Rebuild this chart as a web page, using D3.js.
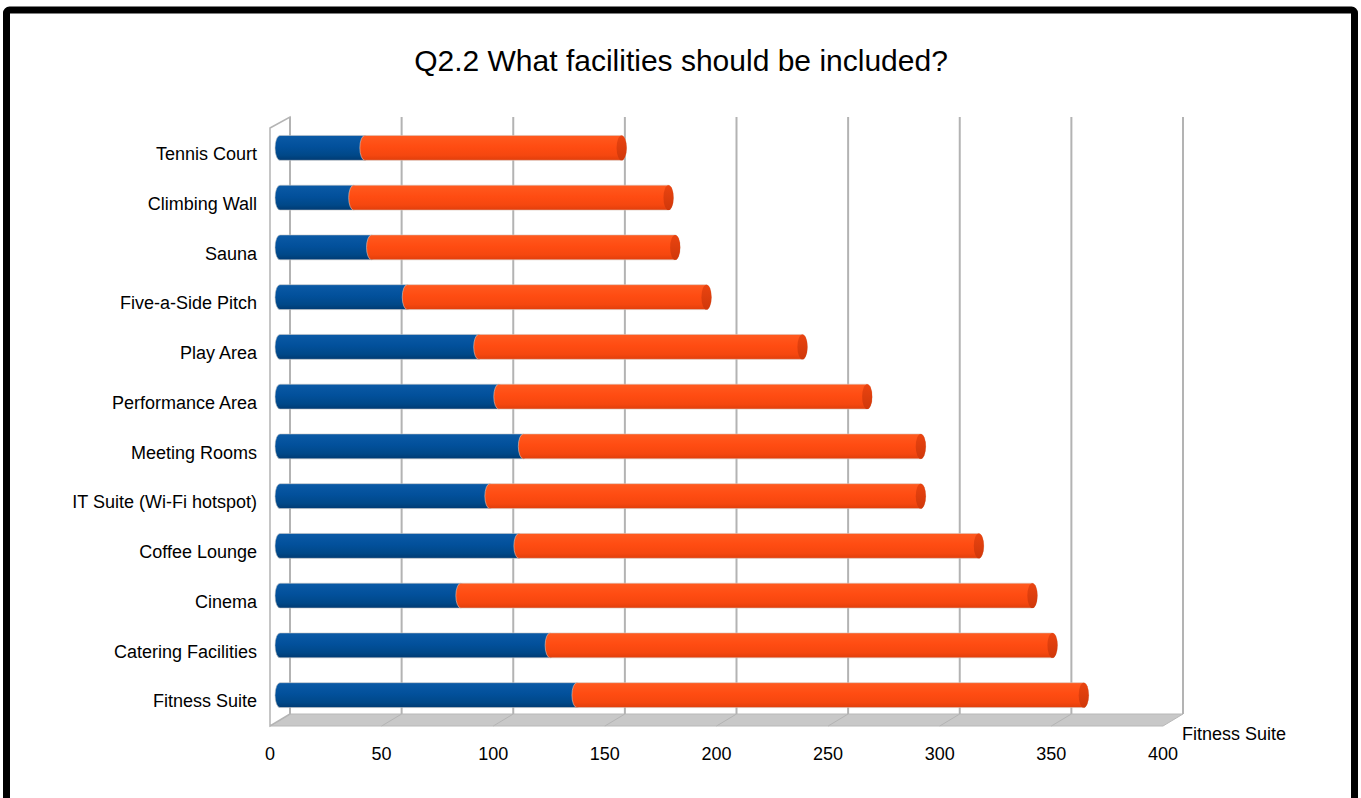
<!DOCTYPE html>
<html>
<head>
<meta charset="utf-8">
<script src="https://cdn.jsdelivr.net/npm/d3@7"></script>
<style>
  body { margin: 0; background: #fff; }
  svg { display: block; font-family: "Liberation Sans", Arial, sans-serif; }
</style>
</head>
<body>
<svg id="chart" width="1361" height="798"></svg>
<script>
// categories, top to bottom
const categories = [
  "Tennis Court", "Climbing Wall", "Sauna", "Five-a-Side Pitch", "Play Area",
  "Performance Area", "Meeting Rooms", "IT Suite (Wi-Fi hotspot)", "Coffee Lounge",
  "Cinema", "Catering Facilities", "Fitness Suite"
];
// first (blue) series
const blueValues = [38, 33, 41, 57, 89, 98, 109, 94, 107, 81, 121, 133];
// second (orange) series
const orangeValues = [115, 141, 136, 134, 145, 165, 178, 193, 206, 256, 225, 227];
const tickValues = [0, 50, 100, 150, 200, 250, 300, 350, 400];

const svg = d3.select("#chart");

// 3D depth offset (back wall -> front edge)
const dx = -20, dy = 12;

// scales on the back wall
const x = d3.scaleLinear().domain([0, 400]).range([290, 1183]);
const y = d3.scaleBand().domain(categories).range([117, 714]).paddingInner(0.5).paddingOuter(0.25);
const yTop = 117, yBottom = 714;

// gradients for the cylinders
const defs = svg.append("defs");
function grad(id, stops) {
  const g = defs.append("linearGradient").attr("id", id)
    .attr("x1", 0).attr("y1", 0).attr("x2", 0).attr("y2", 1);
  stops.forEach(([o, c]) => g.append("stop").attr("offset", o).attr("stop-color", c));
}
grad("blueGrad", [[0, "#0b5aa6"], [0.45, "#02509b"], [0.8, "#004888"], [1, "#003a72"]]);
grad("orangeGrad", [[0, "#ff5a1f"], [0.45, "#ff4c12"], [0.8, "#f5470f"], [1, "#e03e0b"]]);
grad("capGrad", [[0, "#ea4410"], [1, "#d0380a"]]);

// outer frame
svg.append("rect")
  .attr("x", 6.5).attr("y", 10).attr("width", 1348).attr("height", 900)
  .attr("rx", 3)
  .attr("fill", "#fff").attr("stroke", "#000").attr("stroke-width", 7);

// title
svg.append("text")
  .attr("x", 681).attr("y", 71)
  .attr("text-anchor", "middle")
  .attr("font-size", 30)
  .attr("fill", "#000")
  .text("Q2.2 What facilities should be included?");

// floor
const x0 = x(0), x4 = x(400);
svg.append("polygon")
  .attr("points", [[x0, yBottom], [x4, yBottom], [x4 + dx, yBottom + dy], [x0 + dx, yBottom + dy]].join(" "))
  .attr("fill", "#c8c8c8").attr("stroke", "#b8b8b8").attr("stroke-width", 1);

// floor depth lines
svg.selectAll(".floorline")
  .data(tickValues.slice(1, -1))
  .join("line")
  .attr("x1", d => x(d)).attr("y1", yBottom)
  .attr("x2", d => x(d) + dx).attr("y2", yBottom + dy)
  .attr("stroke", "#b4b4b4").attr("stroke-width", 1);

// left wall
svg.append("polygon")
  .attr("points", [[x0 + dx, yTop + dy - 1], [x0, yTop], [x0, yBottom], [x0 + dx, yBottom + dy]].join(" "))
  .attr("fill", "#fff").attr("stroke", "#b4b4b4").attr("stroke-width", 1.5);

// vertical gridlines on back wall
svg.selectAll(".grid")
  .data(tickValues)
  .join("line")
  .attr("x1", d => x(d)).attr("x2", d => x(d))
  .attr("y1", yTop).attr("y2", yBottom)
  .attr("stroke", "#b3b3b3").attr("stroke-width", 2);

// cylinder segment path between two values
const barX = v => x(v) + dx / 2;
function segment(xa, xb, yt, yb, rx) {
  const ry = (yb - yt) / 2;
  return `M${xa},${yt}L${xb},${yt}A${rx},${ry} 0 0 1 ${xb},${yb}L${xa},${yb}A${rx},${ry} 0 0 1 ${xa},${yt}Z`;
}
const rx = 5;

const rows = categories.map((c, i) => ({
  cat: c, blue: blueValues[i], orange: orangeValues[i]
}));

const bars = svg.selectAll(".bar")
  .data(rows)
  .join("g")
  .attr("class", "bar")
  .attr("transform", `translate(0,${dy / 2})`);

bars.append("path")
  .attr("d", d => segment(barX(0), barX(d.blue), y(d.cat), y(d.cat) + y.bandwidth(), rx))
  .attr("fill", "url(#blueGrad)")
  .attr("stroke", "#c9c9c9").attr("stroke-width", 0.6);

bars.append("path")
  .attr("d", d => segment(barX(d.blue), barX(d.blue + d.orange), y(d.cat), y(d.cat) + y.bandwidth(), rx))
  .attr("fill", "url(#orangeGrad)")
  .attr("stroke", "#d9c4bb").attr("stroke-width", 0.6);

bars.append("ellipse")
  .attr("cx", d => barX(d.blue + d.orange))
  .attr("cy", d => y(d.cat) + y.bandwidth() / 2)
  .attr("rx", rx).attr("ry", y.bandwidth() / 2)
  .attr("fill", "url(#capGrad)");

// category labels (front edge)
svg.selectAll(".label")
  .data(categories)
  .join("text")
  .attr("x", 257)
  .attr("y", d => y(d) + y.bandwidth() / 2 + dy)
  .attr("dy", "0.35em")
  .attr("text-anchor", "end")
  .attr("font-size", 18)
  .attr("fill", "#000")
  .text(d => d);

// value tick labels (front edge)
svg.selectAll(".tick")
  .data(tickValues)
  .join("text")
  .attr("x", d => x(d) + dx)
  .attr("y", 760)
  .attr("text-anchor", "middle")
  .attr("font-size", 18)
  .attr("fill", "#000")
  .text(d => d);

// stray axis title
svg.append("text")
  .attr("x", 1182).attr("y", 740)
  .attr("font-size", 18)
  .attr("fill", "#000")
  .text("Fitness Suite");
</script>
</body>
</html>
